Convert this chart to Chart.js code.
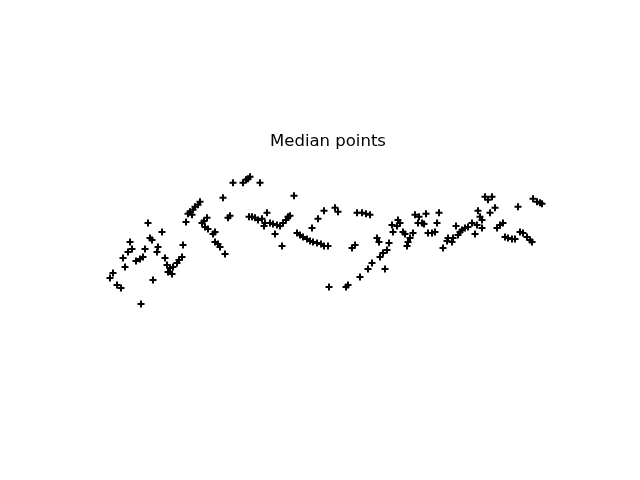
<!DOCTYPE html>
<html>
<head>
<meta charset="utf-8">
<title>Median points</title>
<script src="https://cdn.jsdelivr.net/npm/chart.js@4/dist/chart.umd.min.js"></script>
<style>
  html, body { margin: 0; padding: 0; background: #fff; }
  canvas { display: block; }
</style>
</head>
<body>
<canvas id="medianChart" width="640" height="480"></canvas>
<script>
// median point positions (axes are hidden, y grows downward)
const xValues = [
  110, 113, 117, 121, 123, 125, 128, 130, 132, 136, 140, 143, 141, 145, 148, 150, 152, 153,
  157, 158, 162, 165, 167, 168, 170, 172, 173, 177, 179, 182, 183,
  186, 188, 190, 192, 193, 195, 198, 200, 202, 204, 207, 205, 208, 213, 215, 215, 218, 220, 225,
  223, 228, 230, 233, 243, 246, 248, 250, 260,
  249, 252, 255, 258, 262, 264, 265, 267, 270, 273, 277, 280, 283, 286, 288, 290,
  275, 282, 294,
  297, 300, 303, 307, 310, 313, 317, 321, 324, 328,
  312, 318, 324, 335, 338,
  329, 346, 348, 352, 355, 357, 360, 362, 366, 368, 370, 372,
  377, 379, 380, 383, 385, 387, 389, 392, 393,
  397, 398, 400, 403, 405, 407, 408, 410, 413,
  415, 418, 419, 422, 424, 426, 428, 432, 435, 437, 439,
  443, 447, 448, 452, 453, 456, 458, 460, 462, 465, 468, 472, 475, 477, 478, 480, 482, 482,
  485, 488, 490, 492, 495, 497, 500, 503,
  505, 508, 512, 515, 518, 520, 523, 527, 530, 532,
  533, 537, 540, 542
];
const yValues = [
  278, 273, 285, 288, 258, 267, 252, 242, 249, 261, 259, 257, 304, 249, 223, 238, 240, 280,
  252, 247, 232, 258, 265, 272, 268, 274, 267, 263, 260, 257, 245,
  222, 214, 212, 215, 210, 207, 205, 202, 223, 221, 218, 227, 229, 234, 232, 242, 244, 247, 254,
  198, 218, 216, 183, 183, 180, 179, 177, 183,
  217, 217, 218, 220, 219, 226, 223, 213, 223, 224, 225, 226, 223, 220, 217, 216,
  234, 246, 196,
  233, 235, 237, 239, 241, 242, 243, 244, 246, 246,
  228, 219, 211, 208, 212,
  287, 287, 285, 248, 245, 213, 277, 213, 214, 269, 215, 263,
  238, 242, 257, 253, 269, 250, 243, 225, 232,
  226, 220, 223, 232, 234, 246, 242, 238, 233,
  215, 223, 217, 223, 224, 214, 233, 233, 232, 223, 213,
  248, 241, 238, 242, 238, 226, 235, 232, 230, 228, 227, 223, 234, 225, 211, 217, 220, 228,
  197, 200, 213, 197, 208, 228, 225, 223,
  237, 238, 239, 239, 207, 232, 233, 237, 240, 242,
  199, 202, 203, 204
];
const chartTitle = 'Median points';

const points = xValues.map((x, i) => ({ x: x, y: yValues[i] }));

const ctx = document.getElementById('medianChart').getContext('2d');
new Chart(ctx, {
  type: 'scatter',
  data: {
    datasets: [{
      label: 'medians',
      data: points,
      pointStyle: 'cross',
      pointRadius: 3.5,
      pointBorderWidth: 2,
      borderColor: '#000',
      backgroundColor: '#000',
      pointHoverRadius: 3.5
    }]
  },
  options: {
    responsive: false,
    animation: false,
    events: [],
    layout: { padding: { left: 80, right: 64, top: 0, bottom: 147 } },
    plugins: {
      legend: { display: false },
      tooltip: { enabled: false },
      title: {
        display: true,
        text: chartTitle,
        color: '#000',
        font: { family: 'DejaVu Sans', size: 16.5, weight: 'normal' },
        padding: { top: 132, bottom: 0 }
      }
    },
    scales: {
      x: { type: 'linear', min: 80, max: 576, display: false },
      y: { type: 'linear', min: 152, max: 333, reverse: true, display: false }
    }
  }
});
</script>
</body>
</html>
